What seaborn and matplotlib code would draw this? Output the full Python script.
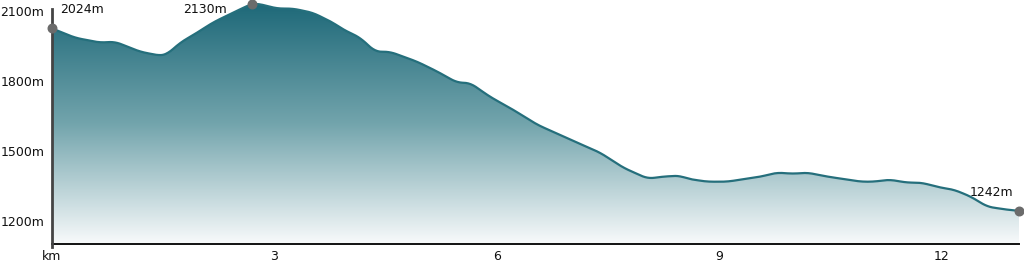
import numpy as np
import pandas as pd
import matplotlib
matplotlib.use("Agg")
import matplotlib.pyplot as plt
from matplotlib.colors import LinearSegmentedColormap
from matplotlib.patches import Polygon
import seaborn as sns

# ---- data ----
distance_km = [0.0, 0.31, 0.648, 0.85, 1.19, 1.46, 1.55, 1.73, 1.96, 2.17, 2.44, 2.70,
               2.78, 3.04, 3.25, 3.52, 3.79, 3.93, 4.16, 4.36, 4.56, 4.93, 5.20, 5.47,
               5.64, 5.91, 6.22, 6.55, 6.76, 7.09, 7.40, 7.71, 8.04, 8.25, 8.48, 8.57,
               8.84, 9.11, 9.38, 9.57, 9.78, 10.01, 10.19, 10.46, 10.92, 11.09, 11.30,
               11.54, 11.73, 12.0, 12.17, 12.40, 12.62, 12.89, 13.05]
elevation_m = [2024, 1984, 1963, 1967, 1924, 1907, 1912, 1963, 2006, 2049, 2091, 2130,
               2130, 2109, 2109, 2091, 2049, 2019, 1984, 1924, 1924, 1881, 1839, 1791,
               1791, 1731, 1676, 1611, 1581, 1534, 1491, 1427, 1380, 1389, 1393, 1380,
               1367, 1367, 1380, 1389, 1406, 1401, 1406, 1389, 1367, 1367, 1376,
               1363, 1363, 1341, 1333, 1303, 1260, 1247, 1242]
x_ticks = [0, 3, 6, 9, 12]
x_tick_labels = ["km", "3", "6", "9", "12"]
y_ticks = [1200, 1500, 1800, 2100]
y_tick_labels = ["1200m", "1500m", "1800m", "2100m"]
marker_km = [0.0, 2.70, 13.05]
marker_elev = [2024, 2130, 1242]
marker_labels = ["2024m", "2130m", "1242m"]

sns.set_theme(style="white")
plt.rcParams['font.family'] = ['DejaVu Sans']

W, H = 1024, 263
fig = plt.figure(figsize=(W / 100, H / 100), dpi=100)
ax = fig.add_axes([52 / W, 19 / H, 967 / W, 244 / H])

ymin, ymax = 1100, 2145.7

# smooth curve
xs = np.array(distance_km)
ys = np.array(elevation_m)
xf = np.linspace(xs[0], xs[-1], 800)
yf = np.interp(xf, xs, ys)
k = 5
pad = np.pad(yf, k, mode="edge")
yf_s = np.convolve(pad, np.ones(2 * k + 1) / (2 * k + 1), mode="same")[k:-k]
yf_s[0] = ys[0]; yf_s[-1] = ys[-1]

# gradient fill
cmap = LinearSegmentedColormap.from_list("g", ["#1d6878", "#72a4ac", "#f8fafb"])
grad = np.linspace(0, 1, 256).reshape(-1, 1)
top_val = 2135
verts = np.column_stack([np.r_[xf, xf[-1], xf[0]], np.r_[yf_s, ymin, ymin]])
poly = Polygon(verts, closed=True, facecolor="none", edgecolor="none",
               transform=ax.transData)
ax.add_patch(poly)
im = ax.imshow(grad, aspect="auto", cmap=cmap, extent=[0, 13.05, ymin, top_val],
               origin="upper", zorder=1)
im.set_clip_path(poly)
ax.set_xlim(0, 13.05)
ax.set_ylim(ymin, ymax)

sm = pd.DataFrame({"km": xf, "elev": yf_s})
sns.lineplot(data=sm, x="km", y="elev", ax=ax, color="#256f7c", linewidth=1.6,
             zorder=3, clip_on=False)

ax.scatter(marker_km, marker_elev, s=38, color="#6b6b6b", zorder=5, clip_on=False)
ax.text(marker_km[0] + 0.11, 2104, marker_labels[0], fontsize=9, ha="left",
        va="center", color="#111111")
ax.text(marker_km[1] - 0.34, 2104, marker_labels[1], fontsize=9, ha="right",
        va="center", color="#111111")
ax.text(marker_km[2] - 0.08, 1322, marker_labels[2], fontsize=9, ha="right",
        va="center", color="#111111")

ax.set_xticks(x_ticks)
ax.set_xticklabels(x_tick_labels, fontsize=9, color="#111111")
ax.set_yticks(y_ticks)
ax.set_yticklabels(y_tick_labels, fontsize=9, color="#111111")
ax.tick_params(axis="both", length=0)
ax.tick_params(axis="x", pad=4)
ax.tick_params(axis="y", pad=5.5)
ax.set_xlabel("")
ax.set_ylabel("")
ax.grid(False)

for s in ["top", "right"]:
    ax.spines[s].set_visible(False)
ax.spines["left"].set_color("#444444")
ax.spines["left"].set_linewidth(2)
ax.spines["left"].set_bounds(1088, 2105)
ax.spines["bottom"].set_color("#111111")
ax.spines["bottom"].set_linewidth(1.4)
ax.spines["left"].set_zorder(4)

fig.savefig("out.png", dpi=100)
